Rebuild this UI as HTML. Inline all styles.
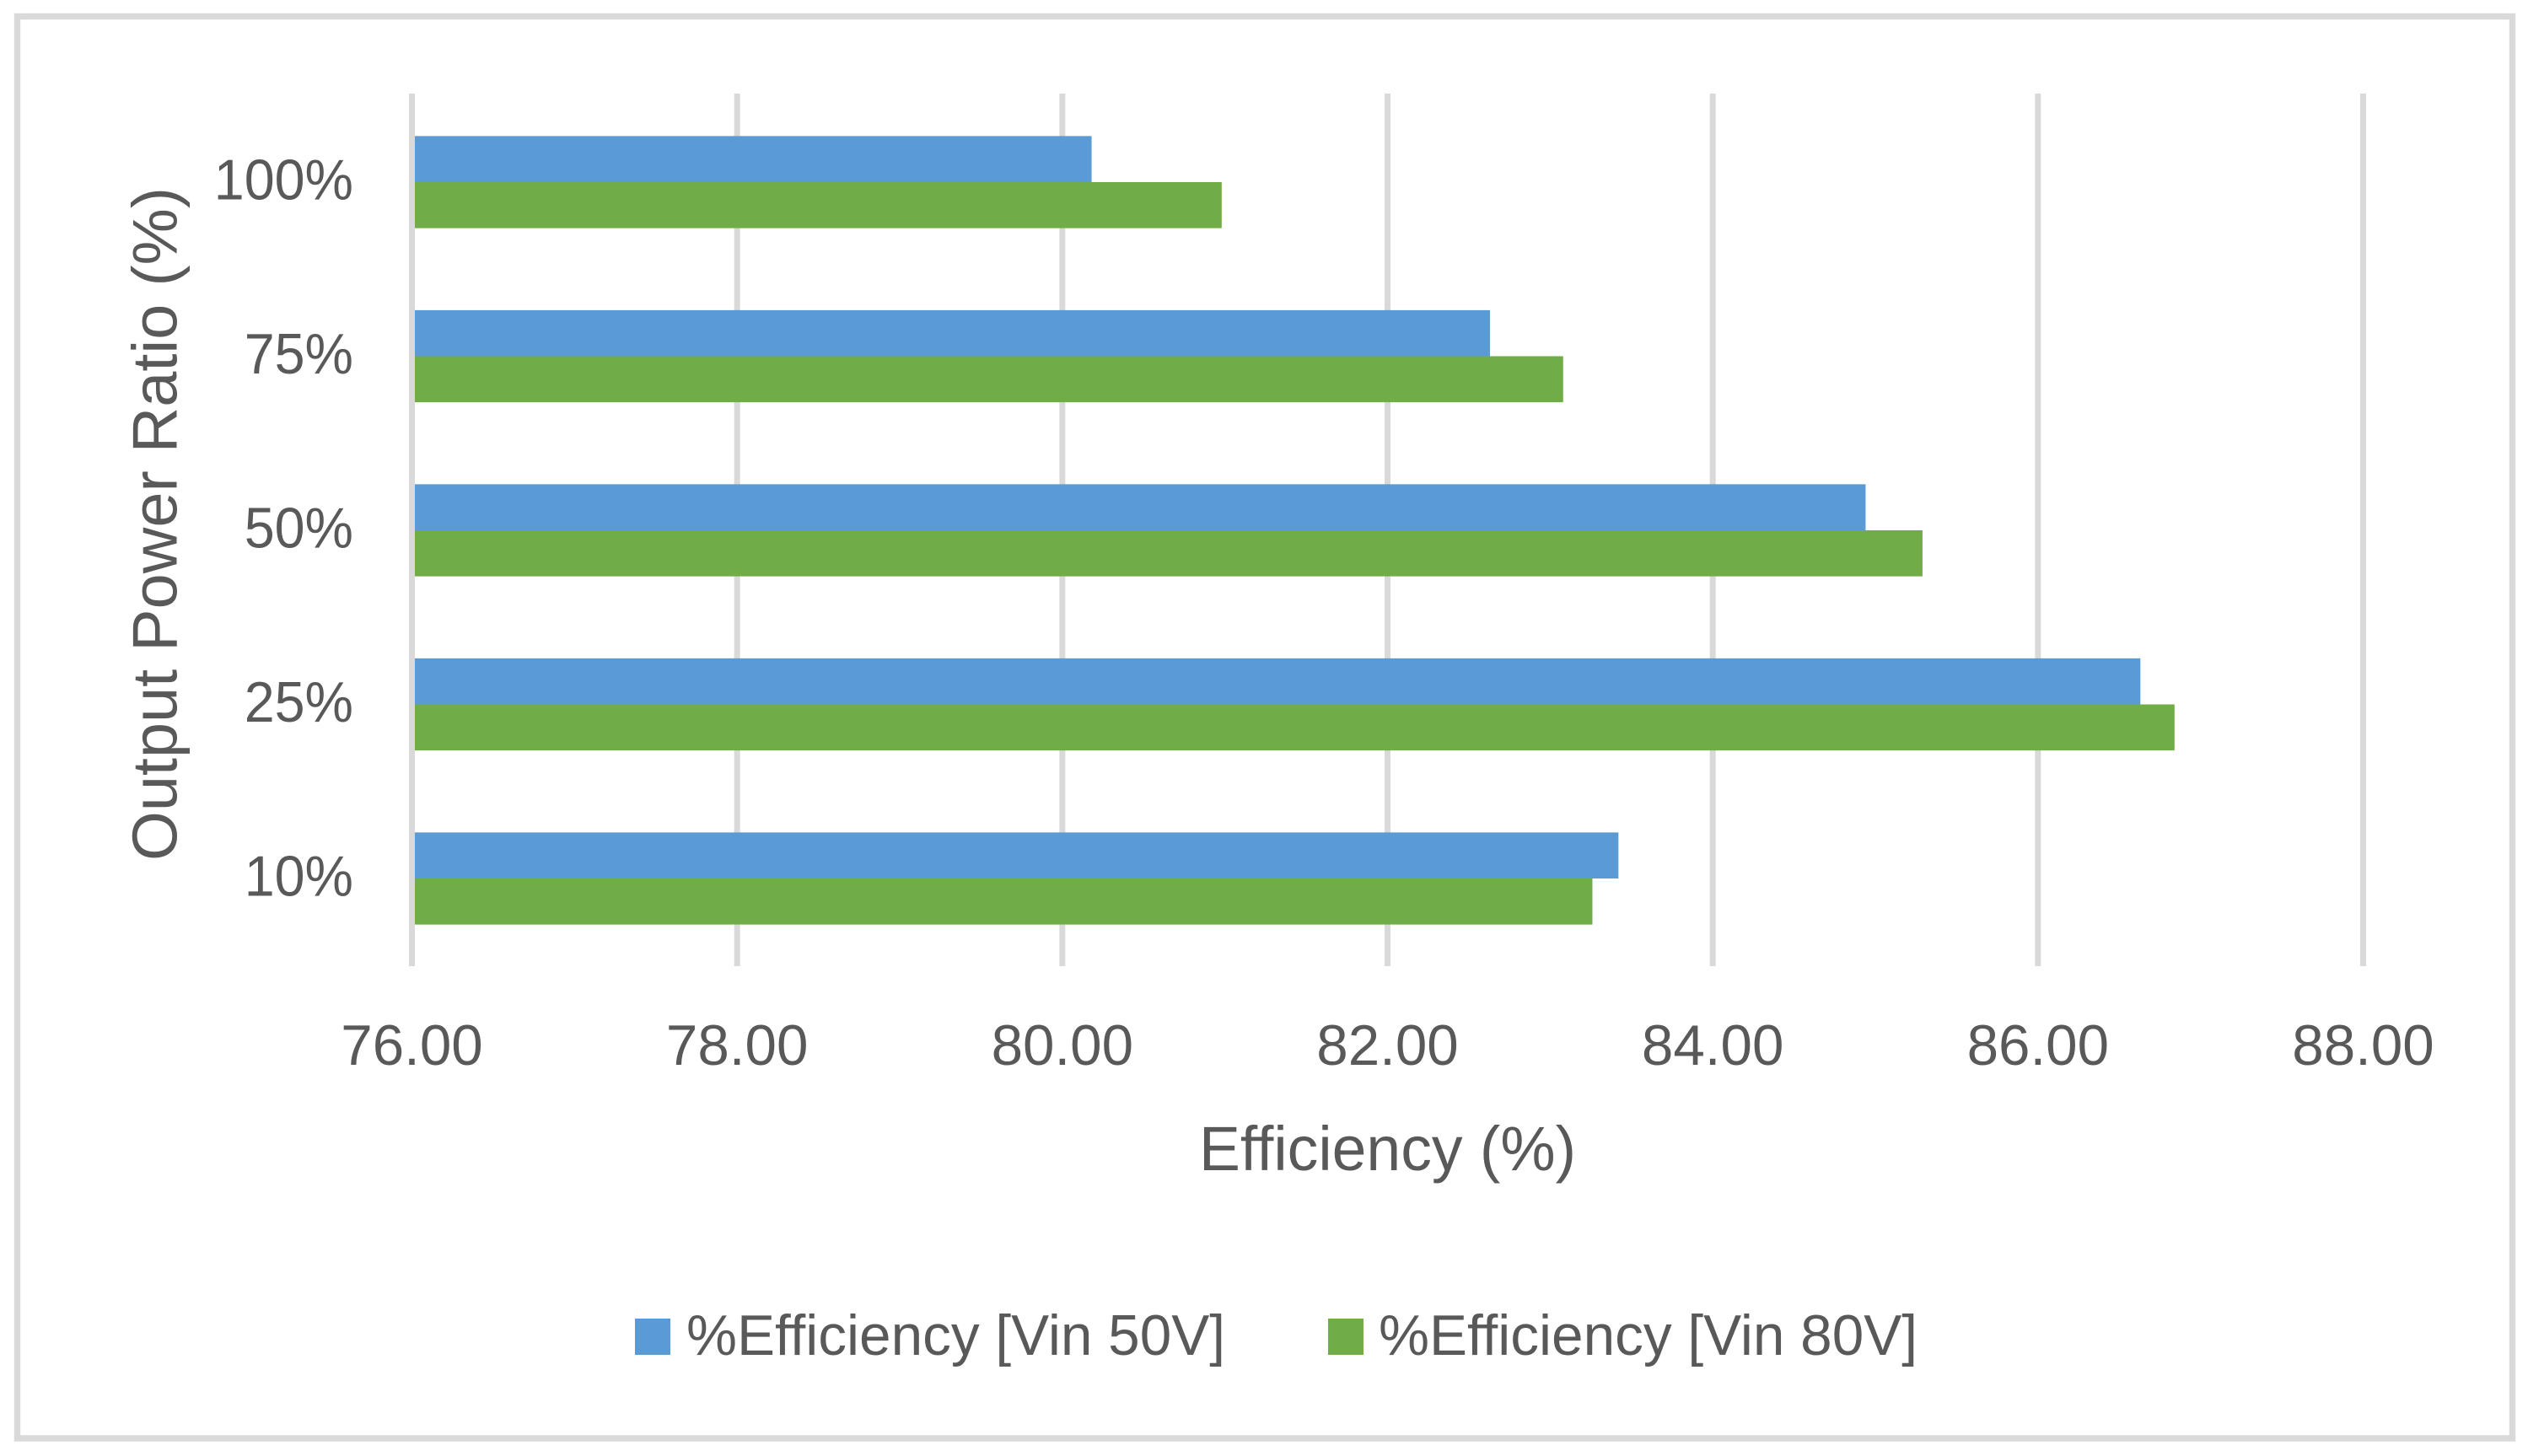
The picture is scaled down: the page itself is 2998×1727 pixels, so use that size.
<!DOCTYPE html>
<html lang="en">
<head>
<meta charset="utf-8">
<title>Efficiency vs Output Power Ratio</title>
<style>
html,body{margin:0;padding:0;background:#fff;}
svg{display:block;}
text{font-family:"Liberation Sans",sans-serif;fill:#595959;}
</style>
</head>
<body>
<svg id="chart" xmlns="http://www.w3.org/2000/svg" width="2998" height="1727" viewBox="0 0 2998 1727">
  <rect x="0" y="0" width="2998" height="1727" fill="#ffffff"/>
  <rect x="20.5" y="19.5" width="2959" height="1686.5" fill="#ffffff" stroke="#d9d9d9" stroke-width="7.5"/>
  <g id="grid"></g>
  <g id="bars"></g>
  <g id="xticks"></g>
  <g id="yticks"></g>
  <text x="1422" y="1388" font-size="74" textLength="447" lengthAdjust="spacingAndGlyphs">Efficiency (%)</text>
  <text transform="translate(209.5,1021) rotate(-90)" x="0" y="0" font-size="75" textLength="799" lengthAdjust="spacingAndGlyphs">Output Power Ratio (%)</text>
  <g>
    <rect x="753" y="1564" width="42" height="43" fill="#5b9bd5"/>
    <text x="814" y="1607" font-size="68" textLength="639" lengthAdjust="spacingAndGlyphs">%Efficiency [Vin 50V]</text>
    <rect x="1575" y="1564" width="42" height="43" fill="#70ad47"/>
    <text x="1635" y="1607" font-size="68" textLength="639" lengthAdjust="spacingAndGlyphs">%Efficiency [Vin 80V]</text>
  </g>
</svg>
<script>
var categories = ["100%", "75%", "50%", "25%", "10%"];
var vin50 = [80.18, 82.63, 84.94, 86.63, 83.42];
var vin80 = [80.98, 83.08, 85.29, 86.84, 83.26];
var xTicks = [76, 78, 80, 82, 84, 86, 88];

var NS = "http://www.w3.org/2000/svg";
var xMin = 76, xMax = 88;
var plotLeft = 488.5, plotRight = 2802.5, plotTop = 111, plotBottom = 1146;
var bandsBottom = 1143.5;
var axisHalf = 3.5;

function xScale(v) {
  return plotLeft + (v - xMin) / (xMax - xMin) * (plotRight - plotLeft);
}
function bandHeight() {
  return (bandsBottom - plotTop) / categories.length;
}
function bandTop(i) {
  return plotTop + i * bandHeight();
}
function make(tag, attrs, parent) {
  var el = document.createElementNS(NS, tag);
  for (var k in attrs) { el.setAttribute(k, attrs[k]); }
  parent.appendChild(el);
  return el;
}

var gridG = document.getElementById("grid");
var barsG = document.getElementById("bars");
var xG = document.getElementById("xticks");
var yG = document.getElementById("yticks");

xTicks.forEach(function (t) {
  var line = make("rect", {
    x: xScale(t) - axisHalf, y: plotTop, width: axisHalf * 2,
    height: plotBottom - plotTop, fill: "#d9d9d9"
  }, gridG);
  
  

  var label = make("text", {
    x: xScale(t), y: 1263, "font-size": 68, "text-anchor": "middle"
  }, xG);
  label.textContent = t.toFixed(2);
  
  
  var tw = label.getComputedTextLength();
  label.setAttribute("textLength", tw * 0.99);
  label.setAttribute("lengthAdjust", "spacingAndGlyphs");
});

categories.forEach(function (c, i) {
  var band = bandHeight();
  var top = bandTop(i);
  var barH = band * 0.2645;
  var mid = top + band * 0.5 + 1.75;
  var baseX = xScale(xMin) + axisHalf;

  var b50 = make("rect", {
    x: baseX, y: mid - barH, width: xScale(vin50[i]) - baseX,
    height: barH, fill: "#5b9bd5"
  }, barsG);
  
  

  var b80 = make("rect", {
    x: baseX, y: mid, width: xScale(vin80[i]) - baseX,
    height: barH, fill: "#70ad47"
  }, barsG);
  
  

  var label = make("text", {
    x: 419, y: top + band * 0.5 + 22, "font-size": 68, "text-anchor": "end"
  }, yG);
  label.textContent = c;
  
  
  var w = label.getComputedTextLength();
  label.setAttribute("textLength", w * 0.95);
  label.setAttribute("lengthAdjust", "spacingAndGlyphs");
});
</script>
</body>
</html>
